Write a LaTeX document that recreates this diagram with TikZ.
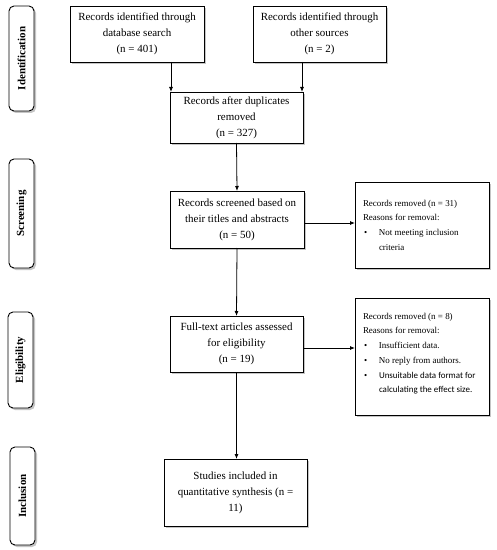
\documentclass[tikz,border=0pt]{standalone}
\usepackage{fontspec}
\setmainfont{Liberation Serif}
\newfontfamily\calibfont{Carlito}
\usetikzlibrary{shadows,arrows.meta}
\begin{document}
\begin{tikzpicture}[x=1bp,y=-1bp,
  shad/.style={drop shadow={shadow xshift=2bp, shadow yshift=-2bp, fill=black!45}},
  mainbox/.style={draw, line width=0.9bp, fill=white, shad, inner sep=0pt, outer sep=0pt,
    align=center, font=\fontsize{11}{16}\selectfont, anchor=north west},
  sidebox/.style={draw, line width=0.9bp, fill=white, shad, rounded corners=5bp, inner sep=0pt,
    outer sep=0pt, minimum width=25bp, font=\fontsize{11}{13}\selectfont\bfseries},
  remtext/.style={inner sep=0pt, outer sep=0pt, anchor=north west, align=left,
    font=\fontsize{9}{14.8}\selectfont},
  arr/.style={line width=0.8bp, -{Latex[length=5bp,width=4bp]}}
]
\useasboundingbox (0,0) rectangle (497,550);
\fill[white] (0,0) rectangle (497,550);

% side labels
\node[sidebox, minimum height=105bp] (sid) at (21.5,58.5) {\rotatebox{90}{Identification}};
\node[sidebox, minimum height=109bp] (sscr) at (21.5,213.5) {\rotatebox{90}{Screening}};
\node[sidebox, minimum height=96bp] (selig) at (20.5,360) {\rotatebox{90}{Eligibility}};
\node[sidebox, minimum height=98bp] (sinc) at (22.5,496) {\rotatebox{90}{Inclusion}};

% main boxes
\node[mainbox, minimum width=134bp, minimum height=56bp] (A) at (70,6)
  {Records identified through\\database search\\(n = 401)};
\node[mainbox, minimum width=133bp, minimum height=56bp] (B) at (253,6)
  {Records identified through\\other sources\\(n = 2)};
\node[mainbox, minimum width=133bp, minimum height=51bp] (C) at (170,92)
  {Records after duplicates\\removed\\(n = 327)};
\node[mainbox, minimum width=134bp, minimum height=57bp] (D) at (170,191)
  {Records screened based on\\their titles and abstracts\\(n = 50)};
\node[mainbox, minimum width=133bp, minimum height=56bp] (F) at (170,316)
  {Full-text articles assessed\\for eligibility\\(n = 19)};
\node[mainbox, minimum width=143bp, minimum height=67bp] (H) at (164,459)
  {Studies included in\\quantitative synthesis (n =\\11)};

% removal boxes
\node[mainbox, minimum width=134bp, minimum height=86bp] (E) at (355,182) {};
\node[remtext] (Et) at (363,200)
  {Records removed (n = 31)\\Reasons for removal:\\
   \makebox[16bp][l]{\hspace{1bp}•}Not meeting inclusion\\
   \hspace*{16bp}criteria};
\node[mainbox, minimum width=134bp, minimum height=117bp] (G) at (355,298) {};
\node[remtext] (Gt) at (363,313)
  {Records removed (n = 8)\\Reasons for removal:\\
   \makebox[16bp][l]{\hspace{1bp}•}Insufficient data.\\
   \makebox[16bp][l]{\hspace{1bp}•}No reply from authors.\\
   \makebox[16bp][l]{\hspace{1bp}•}{\calibfont Unsuitable data format for}\\
   \hspace*{16bp}{\calibfont calculating the effect size.}};

% connectors
\coordinate (d1) at ([yshift=-3.5bp]D.east);
\coordinate (f1) at ([yshift=-4bp]F.east);
\draw[arr] ([xshift=1bp]C.north west |- A.south) -- ([xshift=1bp]C.north west);
\draw[arr] ([xshift=-1bp]C.north east |- B.south) -- ([xshift=-1bp]C.north east);
\draw[arr] (C.south) -- (D.north);
\draw[arr] (d1) -- (d1 -| E.west);
\draw[arr] (D.south) -- (F.north);
\draw[arr] (f1) -- (f1 -| G.west);
\draw[arr] (F.south) -- (F.south |- H.north);
\end{tikzpicture}
\end{document}
